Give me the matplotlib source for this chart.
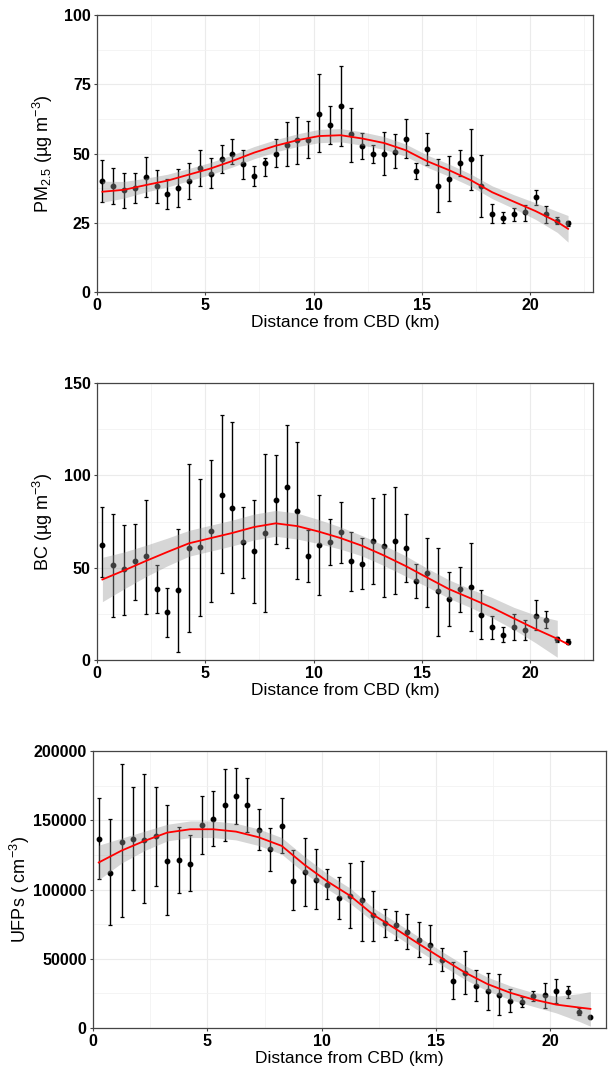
import numpy as np
import matplotlib
matplotlib.use("Agg")
import matplotlib.pyplot as plt
from matplotlib.ticker import MultipleLocator

plt.rcParams['font.family'] = ['Liberation Sans', 'DejaVu Sans']
plt.rcParams['mathtext.fontset'] = 'custom'
plt.rcParams['mathtext.rm'] = 'Liberation Sans'
plt.rcParams['mathtext.it'] = 'Liberation Sans:italic'
plt.rcParams['mathtext.bf'] = 'Liberation Sans:bold'

# distance bins (km)
dist = [0.25, 0.75, 1.25, 1.75, 2.25, 2.75, 3.25, 3.75, 4.25, 4.75, 5.25,
        5.75, 6.25, 6.75, 7.25, 7.75, 8.25, 8.75, 9.25, 9.75, 10.25, 10.75,
        11.25, 11.75, 12.25, 12.75, 13.25, 13.75, 14.25, 14.75, 15.25, 15.75,
        16.25, 16.75, 17.25, 17.75, 18.25, 18.75, 19.25, 19.75, 20.25, 20.75,
        21.25, 21.75]

# PM2.5 bin means and bar ends
pm_mean = [40.1, 38.3, 36.7, 37.4, 41.5, 38.1, 35.5, 37.5, 39.9, 44.6, 42.7,
           48.1, 50.0, 46.2, 42.0, 46.7, 50.0, 53.2, 54.8, 55.0, 64.4, 60.3,
           67.3, 57.0, 52.6, 49.8, 50.0, 50.7, 55.2, 43.8, 51.7, 38.3, 40.7,
           46.7, 47.9, 38.3, 28.3, 26.8, 28.0, 28.8, 34.2, 28.2, 25.6, 24.8]
pm_hi = [47.6, 44.6, 42.9, 42.9, 48.8, 44.0, 40.8, 44.3, 46.4, 51.2, 48.2,
         53.2, 55.4, 51.4, 45.6, 48.2, 55.3, 61.2, 63.3, 61.9, 78.6, 67.1,
         81.7, 66.5, 57.5, 53.0, 57.8, 56.9, 62.3, 46.6, 57.3, 47.9, 49.0,
         51.4, 58.9, 49.5, 31.9, 28.8, 30.4, 31.5, 36.7, 31.2, 27.0, 25.8]
pm_lo = [32.5, 31.9, 30.4, 32.0, 34.3, 32.1, 30.0, 30.6, 33.7, 38.3, 37.5,
         43.1, 46.2, 40.7, 38.1, 41.7, 45.0, 45.6, 46.2, 48.2, 50.6, 53.6,
         52.8, 47.1, 48.0, 46.4, 42.4, 44.6, 48.2, 40.7, 46.0, 28.9, 32.7,
         41.7, 36.9, 27.1, 24.8, 24.8, 25.6, 25.8, 31.5, 25.0, 24.4, 23.8]

# BC
bc_mean = [62.4, 51.3, 49.1, 53.6, 56.2, 38.2, 25.8, 38.0, 60.9, 61.3, 70.0,
           89.3, 82.4, 64.0, 58.9, 68.6, 86.6, 93.6, 80.9, 56.4, 62.4, 64.0,
           69.3, 53.6, 52.2, 64.5, 62.0, 64.7, 60.9, 42.7, 47.3, 37.1, 33.1,
           38.5, 39.5, 24.5, 17.6, 13.6, 17.8, 16.4, 24.0, 21.8, 11.3, 9.8]
bc_hi = [82.6, 78.8, 73.3, 73.9, 86.9, 51.3, 38.9, 71.0, 106.2, 98.2, 108.5,
         132.5, 129.0, 82.6, 86.9, 111.4, 111.1, 127.2, 118.3, 70.2, 89.1,
         76.6, 85.7, 69.5, 65.8, 87.8, 89.7, 93.5, 79.3, 52.2, 65.8, 60.9,
         47.6, 50.5, 63.6, 37.8, 24.0, 17.8, 24.9, 21.8, 32.4, 26.7, 12.7, 11.6]
bc_lo = [45.0, 23.3, 24.4, 32.7, 24.7, 25.5, 12.7, 4.5, 15.1, 23.6, 31.5,
         47.3, 36.4, 44.5, 30.9, 26.2, 62.7, 60.9, 44.0, 42.4, 35.3, 51.3,
         52.7, 37.6, 38.2, 40.9, 34.0, 35.6, 42.2, 33.6, 28.7, 13.1, 18.2,
         26.0, 15.5, 11.3, 11.3, 9.5, 10.9, 10.9, 16.0, 17.1, 10.0, 8.4]

# UFPs
uf_mean = [136800, 111800, 134600, 136800, 135800, 138700, 120900, 121600,
           118500, 146400, 151200, 160800, 167800, 161100, 143300, 129100,
           145900, 106400, 112300, 107000, 103300, 93900, 95600, 92200, 81300,
           75700, 74100, 69500, 63600, 60000, 49100, 34100, 39900, 30500,
           26400, 23700, 19600, 18900, 23000, 24000, 26600, 25700, 11600, 8000]
uf_hi = [166350, 150700, 190600, 174300, 183200, 174300, 161100, 145400,
         139200, 167800, 171200, 187300, 188000, 180800, 158200, 144700,
         165900, 128600, 137500, 129300, 114700, 109100, 119000, 120400, 99200,
         85900, 84200, 82000, 76200, 74300, 57800, 47900, 55400, 41900, 39400,
         38700, 27800, 22500, 26600, 32700, 35100, 30300, 14500, 8000]
uf_lo = [107450, 74500, 79900, 99300, 90300, 102200, 81800, 97400, 98600,
         125500, 131500, 135100, 147100, 141300, 128600, 113500, 126200, 85400,
         88300, 85900, 93400, 78600, 72100, 62900, 62900, 65600, 63600, 57100,
         51500, 46000, 41100, 20800, 24200, 19400, 12800, 9200, 11400, 15200,
         19600, 14500, 17700, 21300, 9200, 8000]

# smooth fits, with band half widths
fit_x = [0.25, 1.25, 2.25, 3.25, 4.25, 5.25, 6.25, 7.25, 8.25, 9.25, 10.25,
         11.25, 12.25, 13.25, 14.25, 15.25, 16.25, 17.25, 18.25, 19.25, 20.25,
         21.25, 21.75]
pm_fit = [36.2, 36.9, 38.6, 40.2, 42.4, 44.6, 47.3, 50.3, 52.8, 54.8, 56.3,
          56.6, 55.4, 53.8, 51.2, 47.2, 44.0, 40.4, 36.0, 32.6, 29.2, 25.3, 22.8]
pm_se = [3.8, 3.0, 2.5, 2.3, 2.2, 2.2, 2.2, 2.2, 2.2, 2.3, 2.4, 2.4, 2.4, 2.3,
         2.2, 2.2, 2.2, 2.2, 2.3, 2.5, 3.0, 3.8, 4.8]
bc_fit = [43.6, 48.5, 53.6, 58.5, 63.2, 66.0, 68.8, 72.0, 74.0, 72.5, 69.5,
          66.0, 61.8, 56.6, 50.9, 44.6, 38.4, 33.4, 28.3, 22.5, 16.8, 11.5, 8.5]
bc_se = [12, 10, 8.5, 7.5, 7, 7, 7, 7, 7, 7, 6.5, 6, 5.5, 5.5, 5.5, 5, 5, 5,
         5.5, 6, 7.5, 10]
uf_fit = [119500, 128100, 135100, 141100, 143500, 143500, 141800, 137700,
          131500, 117800, 105800, 95400, 81800, 71400, 60700, 50300, 40200,
          31700, 25400, 20600, 16900, 14800, 13800]
uf_se = [12500, 9000, 7000, 6000, 6000, 6000, 6000, 6000, 6000, 6000, 5500,
         5500, 5000, 5000, 5000, 5000, 5000, 5000, 5000, 5000, 6000, 10000, 12500]

W, H = 608, 1072
fig = plt.figure(figsize=(W / 100, H / 100), dpi=100)


def panel(box, mean, lo, hi, fit, se, ylim, ystep, xmax, ylabel, lab_x):
    l, t, r, b = box
    ax = fig.add_axes([l / W, 1 - b / H, (r - l) / W, (b - t) / H])
    mean = np.array(mean)
    yerr = [mean - np.array(lo), np.array(hi) - mean]
    ax.errorbar(dist, mean, yerr=yerr, fmt='o', color='black', ms=3.2,
                elinewidth=1.0, capsize=1.3, capthick=0.9, zorder=3)
    # the band may stop short of the line (BC panel)
    fx = np.array(fit_x[:len(se)])
    f = np.array(fit[:len(se)])
    s = np.array(se)
    ax.fill_between(fx, f - s, f + s, color='#999999', alpha=0.4, lw=0, zorder=4)
    ax.plot(fit_x, fit, color='red', lw=1.3, zorder=5)

    ax.set_xlim(0, xmax)
    ax.set_ylim(*ylim)
    ax.xaxis.set_major_locator(MultipleLocator(5))
    ax.xaxis.set_minor_locator(MultipleLocator(2.5))
    ax.yaxis.set_major_locator(MultipleLocator(ystep))
    ax.yaxis.set_minor_locator(MultipleLocator(ystep / 2))
    ax.grid(which='major', color='#ebebeb', lw=0.8)
    ax.grid(which='minor', color='#f2f2f2', lw=0.6)
    ax.set_axisbelow(True)
    for sp in ax.spines.values():
        sp.set_color('#444444')
        sp.set_linewidth(0.9)
    ax.tick_params(which='major', length=2.5, width=0.8, color='#444444',
                   pad=2, labelsize=11.5)
    ax.tick_params(which='minor', length=0)
    for lbl in ax.get_xticklabels() + ax.get_yticklabels():
        lbl.set_fontweight('bold')
    ax.set_xlabel('Distance from CBD (km)', fontsize=12.5, labelpad=1)
    ax.set_ylabel(ylabel, fontsize=13)
    ax.yaxis.set_label_coords(lab_x, 0.5)
    return ax


panel((97, 15, 593, 292), pm_mean, pm_lo, pm_hi, pm_fit, pm_se,
      (0, 100), 25, 22.9, r'PM$_{2.5}$ (µg m$^{-3}$)', -0.085)
panel((97, 383, 593, 660), bc_mean, bc_lo, bc_hi, bc_fit, bc_se,
      (0, 150), 50, 22.9, r'BC (µg m$^{-3}$)', -0.085)
panel((93, 751, 606, 1028), uf_mean, uf_lo, uf_hi, uf_fit, uf_se,
      (0, 200000), 50000, 22.43, r'UFPs ( cm$^{-3}$)', -0.118)

fig.savefig('out.png', dpi=100)
